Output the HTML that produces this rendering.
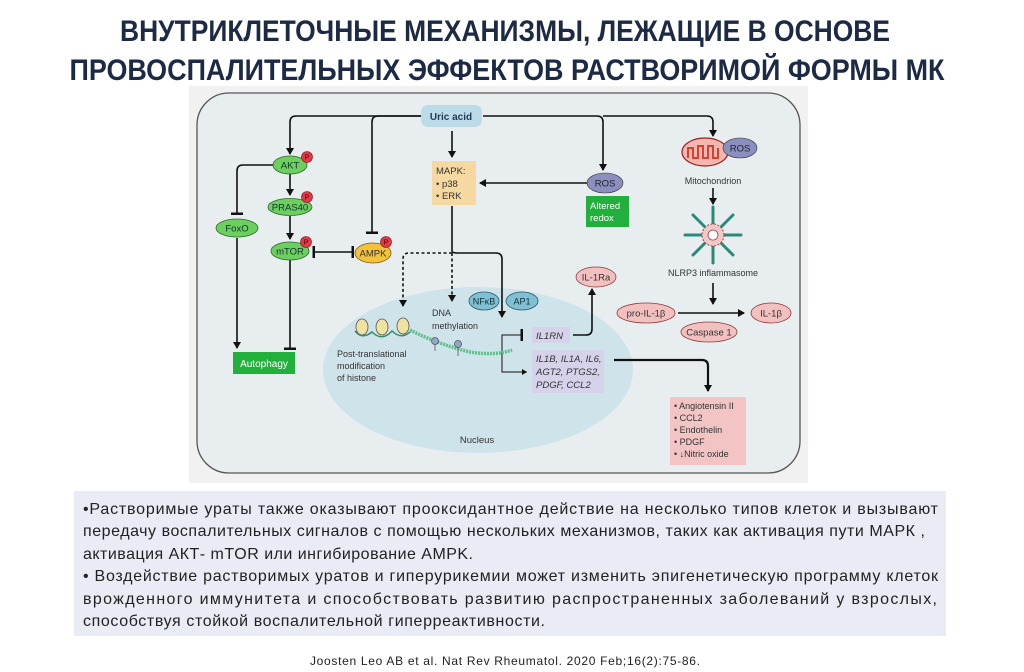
<!DOCTYPE html>
<html><head><meta charset="utf-8"><style>
html,body{margin:0;padding:0;background:#fff;}
svg{display:block;}
text{font-family:"Liberation Sans","DejaVu Sans",sans-serif;}
</style></head><body>
<svg width="1024" height="672" viewBox="0 0 1024 672" xmlns="http://www.w3.org/2000/svg">
<defs>
<marker id="ar" markerWidth="8" markerHeight="8" refX="6" refY="4" orient="auto" markerUnits="userSpaceOnUse"><path d="M0,0 L7,4 L0,8 z" fill="#111"/></marker>
<marker id="ars" markerWidth="6" markerHeight="6" refX="5" refY="3" orient="auto" markerUnits="userSpaceOnUse"><path d="M0,0 L5,3 L0,6 z" fill="#111"/></marker>
<marker id="tb" markerWidth="4" markerHeight="12" refX="2" refY="6" orient="auto" markerUnits="userSpaceOnUse"><rect x="0.5" y="0" width="2.5" height="12" fill="#111"/></marker>
</defs>
<!-- title -->
<text x="505" y="41" text-anchor="middle" font-size="30" font-weight="bold" fill="#1c2a45" textLength="770" lengthAdjust="spacingAndGlyphs">ВНУТРИКЛЕТОЧНЫЕ МЕХАНИЗМЫ, ЛЕЖАЩИЕ В ОСНОВЕ</text>
<text x="507" y="80" text-anchor="middle" font-size="30" font-weight="bold" fill="#1c2a45" textLength="875" lengthAdjust="spacingAndGlyphs">ПРОВОСПАЛИТЕЛЬНЫХ ЭФФЕКТОВ РАСТВОРИМОЙ ФОРМЫ МК</text>

<!-- diagram background -->
<rect x="189" y="86" width="619" height="397" fill="#f1f1f1"/>
<rect x="197" y="93" width="603" height="380" rx="32" fill="#e8eef0" stroke="#555" stroke-width="1.3"/>
<!-- nucleus -->
<ellipse cx="478" cy="370" rx="155" ry="83" fill="#cfe3ea"/>
<text x="477" y="443" text-anchor="middle" font-size="9.5" fill="#333">Nucleus</text>

<g stroke="#111" stroke-width="1.6" fill="none">
<path d="M421,116 H296 Q290,116 290,122 V154" marker-end="url(#ar)"/>
<path d="M421,116 H378 Q372,116 372,122 V233" marker-end="url(#tb)"/>
<path d="M452,131 V157" marker-end="url(#ar)"/>
<path d="M483,116 H597 Q603,116 603,122 V170" marker-end="url(#ar)"/>
<path d="M603,116 H707 Q713,116 713,122 V136" marker-end="url(#ar)"/>
<path d="M273,165 H243 Q237,165 237,171 V214" marker-end="url(#tb)"/>
<path d="M290,174 V195" marker-end="url(#ar)"/>
<path d="M290,216 V239" marker-end="url(#ar)"/>
<path d="M237,238 V348" marker-end="url(#ar)"/>
<path d="M290,260 V349" marker-end="url(#tb)"/>
<path d="M314,252 H353" marker-start="url(#tb)" marker-end="url(#tb)"/>
<path d="M587,183 H480" marker-end="url(#ar)"/>
<path d="M452,206 V251 Q452,253 458,253 H496 Q502,253 502,259 V317" marker-end="url(#ar)"/>
<path d="M452,253 H409 Q403,253 403,259 V306" stroke-dasharray="3,2.5" marker-end="url(#ar)"/>
<path d="M452,253 V301" stroke-dasharray="3,2.5" marker-end="url(#ar)"/>
<path d="M517,335 H502 V372 H527" stroke-width="1" marker-end="url(#ars)"/>
<path d="M502,335 H522" stroke-width="1" marker-end="url(#tb)"/>
<path d="M573,335 H586 Q592,335 592,329 V289" marker-end="url(#ar)"/>
<path d="M614,360 H702 Q708,360 708,366 V391" stroke-width="2.2" marker-end="url(#ar)"/>
<path d="M713,188 V204" marker-end="url(#ar)"/>
<path d="M713,283 V304" marker-end="url(#ar)"/>
<path d="M678,313 H744" marker-end="url(#ar)"/>
</g>

<rect x="421" y="105" width="61" height="22" rx="7" fill="#bcdbe9"/>
<text x="451" y="120" text-anchor="middle" font-size="10" font-weight="bold" fill="#1f3a55">Uric acid</text>

<g stroke="#2a6a2a" stroke-width="0.8" fill="#6ccf5e">
<ellipse cx="290" cy="165" rx="17" ry="9"/>
<ellipse cx="290" cy="207" rx="22" ry="8.5"/>
<ellipse cx="290" cy="251" rx="19" ry="9"/>
<ellipse cx="237" cy="228" rx="21" ry="9"/>
</g>
<g font-size="9.5" text-anchor="middle" fill="#133">
<text x="290" y="168.5">AKT</text>
<text x="290" y="210.5">PRAS40</text>
<text x="290" y="254.5">mTOR</text>
<text x="237" y="231.5">FoxO</text>
</g>
<ellipse cx="373" cy="253" rx="18" ry="10" fill="#f2c23c" stroke="#7a5a10" stroke-width="0.8"/>
<text x="373" y="256.5" text-anchor="middle" font-size="9.5" fill="#333">AMPK</text>
<g fill="#e23a45" stroke="#7a1020" stroke-width="0.6">
<circle cx="307" cy="157" r="5.5"/><circle cx="307" cy="197" r="5.5"/><circle cx="306" cy="242" r="5.5"/><circle cx="386" cy="242" r="5.5"/>
</g>
<g font-size="7" text-anchor="middle" fill="#400">
<text x="307" y="159.5">P</text><text x="307" y="199.5">P</text><text x="306" y="244.5">P</text><text x="386" y="244.5">P</text>
</g>
<rect x="233" y="352" width="62" height="22" fill="#22b03c"/>
<text x="264" y="367" text-anchor="middle" font-size="10" fill="#fff">Autophagy</text>

<rect x="432" y="161" width="44" height="44" fill="#f5d9a0"/>
<text font-size="9.5" fill="#333"><tspan x="436" y="174">MAPK:</tspan><tspan x="436" y="187">• p38</tspan><tspan x="436" y="199">• ERK</tspan></text>

<ellipse cx="605" cy="183" rx="18" ry="10" fill="#8a8fc0" stroke="#333" stroke-width="0.6"/>
<text x="605" y="186.5" text-anchor="middle" font-size="9.5" fill="#222">ROS</text>
<rect x="586" y="196" width="43" height="31" fill="#22b03c"/>
<text font-size="9.5" fill="#fff"><tspan x="590" y="209">Altered</tspan><tspan x="590" y="221">redox</tspan></text>

<ellipse cx="484" cy="301" rx="15" ry="9" fill="#7fc0d4" stroke="#2a5a6a" stroke-width="0.8"/>
<ellipse cx="522" cy="301" rx="16" ry="9" fill="#7fc0d4" stroke="#2a5a6a" stroke-width="0.8"/>
<text x="484" y="304.5" text-anchor="middle" font-size="9" fill="#133">NFκB</text>
<text x="522" y="304.5" text-anchor="middle" font-size="9" fill="#133">AP1</text>
<text font-size="9" fill="#333"><tspan x="432" y="316">DNA</tspan><tspan x="432" y="329">methylation</tspan></text>
<text font-size="9" fill="#333"><tspan x="337" y="357">Post-translational</tspan><tspan x="337" y="369">modification</tspan><tspan x="337" y="381">of histone</tspan></text>
<g fill="#f0e2a0" stroke="#555" stroke-width="0.8">
<ellipse cx="362" cy="327" rx="6" ry="8"/><ellipse cx="382" cy="327" rx="6" ry="8"/><ellipse cx="403" cy="326" rx="6" ry="8"/>
</g>
<path d="M355,331 Q362,340 372,332 Q382,342 392,331 Q402,341 412,330" stroke="#3a8a6a" stroke-width="1.5" fill="none"/>
<path d="M410,330 Q440,345 470,352 Q495,356 512,350" stroke="#5cc08a" stroke-width="3.5" fill="none" stroke-dasharray="2,1"/>
<g stroke="#555" stroke-width="0.8" fill="#8fa6c8">
<line x1="435" y1="343" x2="435" y2="351"/><circle cx="435" cy="341" r="3.5"/>
<line x1="458" y1="347" x2="458" y2="356"/><circle cx="458" cy="344" r="3.5"/>
</g>
<rect x="532" y="327" width="38" height="16" fill="#d6d2ea"/>
<text x="536" y="339" font-size="9.5" font-style="italic" fill="#333">IL1RN</text>
<rect x="532" y="350" width="72" height="43" fill="#d6d2ea"/>
<text font-size="9.5" font-style="italic" fill="#333"><tspan x="536" y="362">IL1B, IL1A, IL6,</tspan><tspan x="536" y="375">AGT2, PTGS2,</tspan><tspan x="536" y="388">PDGF, CCL2</tspan></text>

<g fill="#f3c0c0" stroke="#8a3a3a" stroke-width="0.8">
<ellipse cx="596" cy="277" rx="20" ry="10"/>
<ellipse cx="646" cy="313" rx="29" ry="10"/>
<ellipse cx="771" cy="313" rx="20" ry="10"/>
<ellipse cx="709" cy="332" rx="28" ry="10"/>
</g>
<g font-size="9.5" text-anchor="middle" fill="#333">
<text x="596" y="280.5">IL-1Ra</text>
<text x="646" y="316.5">pro-IL-1β</text>
<text x="771" y="316.5">IL-1β</text>
<text x="709" y="335.5">Caspase 1</text>
</g>

<ellipse cx="705" cy="152" rx="23" ry="14" fill="#f3b6b0" stroke="#a02020" stroke-width="1.2"/>
<path d="M688,158 V148 H693 V158 H698 V146 H703 V158 H708 V146 H713 V158 H718 V148" stroke="#d8402f" stroke-width="2" fill="none"/>
<ellipse cx="740" cy="148" rx="17" ry="10" fill="#8a8fc0" stroke="#333" stroke-width="0.6"/>
<text x="740" y="151.5" text-anchor="middle" font-size="9.5" fill="#222">ROS</text>
<text x="713" y="184" text-anchor="middle" font-size="9" fill="#333">Mitochondrion</text>

<g stroke-width="3" stroke-linecap="round" stroke="#2a8a7a">
<line x1="713" y1="235" x2="713" y2="207"/><line x1="713" y1="235" x2="713" y2="263"/>
<line x1="713" y1="235" x2="685" y2="235"/><line x1="713" y1="235" x2="741" y2="235"/>
<line x1="713" y1="235" x2="693" y2="215"/><line x1="713" y1="235" x2="733" y2="255"/>
<line x1="713" y1="235" x2="733" y2="215"/><line x1="713" y1="235" x2="693" y2="255"/>
</g>
<circle cx="713" cy="235" r="11" fill="#f0c8c8" stroke="#a04040" stroke-width="1" stroke-dasharray="2,1.5"/>
<circle cx="713" cy="235" r="5" fill="#fff" stroke="#a04040" stroke-width="0.8"/>
<text x="713" y="276" text-anchor="middle" font-size="9" fill="#333">NLRP3 inflammasome</text>

<rect x="670" y="397" width="76" height="68" fill="#f2c4c4"/>
<text font-size="9" fill="#333"><tspan x="674" y="409">• Angiotensin II</tspan><tspan x="674" y="421">• CCL2</tspan><tspan x="674" y="433">• Endothelin</tspan><tspan x="674" y="445">• PDGF</tspan><tspan x="674" y="457">• ↓Nitric oxide</tspan></text>

<rect x="74" y="491" width="872" height="145" fill="#e9ecf5"/>
<g font-size="16" fill="#222">
<text x="83" y="514" textLength="855" lengthAdjust="spacing">•Растворимые ураты также оказывают прооксидантное действие на несколько типов клеток и вызывают</text>
<text x="83" y="536" textLength="842" lengthAdjust="spacing">передачу воспалительных сигналов с помощью нескольких механизмов, таких как активация пути МАРК ,</text>
<text x="83" y="559" textLength="390" lengthAdjust="spacing">активация АКТ- mTOR или ингибирование AMPK.</text>
<text x="83" y="581" textLength="855" lengthAdjust="spacing">• Воздействие растворимых уратов и гиперурикемии может изменить эпигенетическую программу клеток</text>
<text x="83" y="604" textLength="854" lengthAdjust="spacing">врожденного иммунитета и способствовать развитию распространенных заболеваний у взрослых,</text>
<text x="83" y="626" textLength="462" lengthAdjust="spacing">способствуя стойкой воспалительной гиперреактивности.</text>
</g>
<text x="505" y="665" text-anchor="middle" font-size="12" fill="#222" textLength="390" lengthAdjust="spacing">Joosten Leo AB et al. Nat Rev Rheumatol. 2020 Feb;16(2):75-86.</text>
</svg>
</body></html>
